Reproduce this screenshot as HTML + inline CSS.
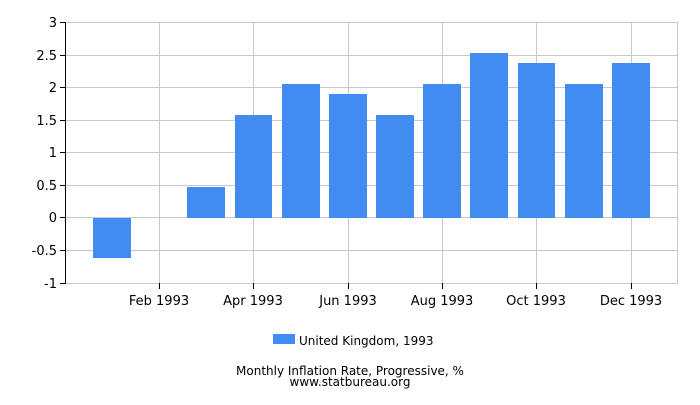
<!DOCTYPE html>
<html><head><meta charset="utf-8"><style>
body{margin:0;background:#fff;}
svg text{font-family:"DejaVu Sans","Liberation Sans",sans-serif;font-size:13px;fill:#000;}
</style></head><body>
<svg width="700" height="400" xmlns="http://www.w3.org/2000/svg">
<rect width="700" height="400" fill="#fff"/>
<g stroke="#c8c8c8" stroke-width="1">
<line x1="65" y1="22.5" x2="678" y2="22.5"/>
<line x1="65" y1="55.5" x2="678" y2="55.5"/>
<line x1="65" y1="87.5" x2="678" y2="87.5"/>
<line x1="65" y1="120.5" x2="678" y2="120.5"/>
<line x1="65" y1="152.5" x2="678" y2="152.5"/>
<line x1="65" y1="185.5" x2="678" y2="185.5"/>
<line x1="65" y1="217.5" x2="678" y2="217.5"/>
<line x1="65" y1="250.5" x2="678" y2="250.5"/>
<line x1="65" y1="283.5" x2="678" y2="283.5"/>
<line x1="159.5" y1="22" x2="159.5" y2="283"/>
<line x1="253.5" y1="22" x2="253.5" y2="283"/>
<line x1="348.5" y1="22" x2="348.5" y2="283"/>
<line x1="442.5" y1="22" x2="442.5" y2="283"/>
<line x1="536.5" y1="22" x2="536.5" y2="283"/>
<line x1="631.5" y1="22" x2="631.5" y2="283"/>
<line x1="677.5" y1="22" x2="677.5" y2="283"/>
</g>
<g fill="#428bf0">
<rect x="93" y="218" width="38" height="40"/>
<rect x="187" y="187" width="38" height="31"/>
<rect x="235" y="115" width="37" height="103"/>
<rect x="282" y="84" width="38" height="134"/>
<rect x="329" y="94" width="38" height="124"/>
<rect x="376" y="115" width="38" height="103"/>
<rect x="423" y="84" width="38" height="134"/>
<rect x="470" y="53" width="38" height="165"/>
<rect x="518" y="63" width="37" height="155"/>
<rect x="565" y="84" width="38" height="134"/>
<rect x="612" y="63" width="38" height="155"/>
</g>
<g stroke="#000" stroke-width="1">
<line x1="65.5" y1="22" x2="65.5" y2="284"/>
<line x1="60" y1="22.5" x2="65" y2="22.5"/>
<line x1="60" y1="55.5" x2="65" y2="55.5"/>
<line x1="60" y1="87.5" x2="65" y2="87.5"/>
<line x1="60" y1="120.5" x2="65" y2="120.5"/>
<line x1="60" y1="152.5" x2="65" y2="152.5"/>
<line x1="60" y1="185.5" x2="65" y2="185.5"/>
<line x1="60" y1="217.5" x2="65" y2="217.5"/>
<line x1="60" y1="250.5" x2="65" y2="250.5"/>
<line x1="60" y1="283.5" x2="65" y2="283.5"/>
<line x1="159.5" y1="283" x2="159.5" y2="289"/>
<line x1="253.5" y1="283" x2="253.5" y2="289"/>
<line x1="348.5" y1="283" x2="348.5" y2="289"/>
<line x1="442.5" y1="283" x2="442.5" y2="289"/>
<line x1="536.5" y1="283" x2="536.5" y2="289"/>
<line x1="631.5" y1="283" x2="631.5" y2="289"/>
</g>
<g text-anchor="end">
<text x="57" y="27">3</text>
<text x="57" y="60">2.5</text>
<text x="57" y="92">2</text>
<text x="57" y="125">1.5</text>
<text x="57" y="157">1</text>
<text x="57" y="190">0.5</text>
<text x="57" y="222">0</text>
<text x="57" y="255">-0.5</text>
<text x="57" y="288">-1</text>
</g>
<g text-anchor="middle">
<text x="159" y="305">Feb 1993</text>
<text x="253" y="305">Apr 1993</text>
<text x="348" y="305">Jun 1993</text>
<text x="442" y="305">Aug 1993</text>
<text x="536" y="305">Oct 1993</text>
<text x="631" y="305">Dec 1993</text>
</g>
<rect x="273" y="334" width="22" height="10" fill="#428bf0"/>
<text x="299" y="345" style="font-size:12px">United Kingdom, 1993</text>
<text x="350" y="375" text-anchor="middle" style="font-size:12px">Monthly Inflation Rate, Progressive, %</text>
<text x="350" y="386" text-anchor="middle" style="font-size:12px">www.statbureau.org</text>
</svg>
</body></html>
